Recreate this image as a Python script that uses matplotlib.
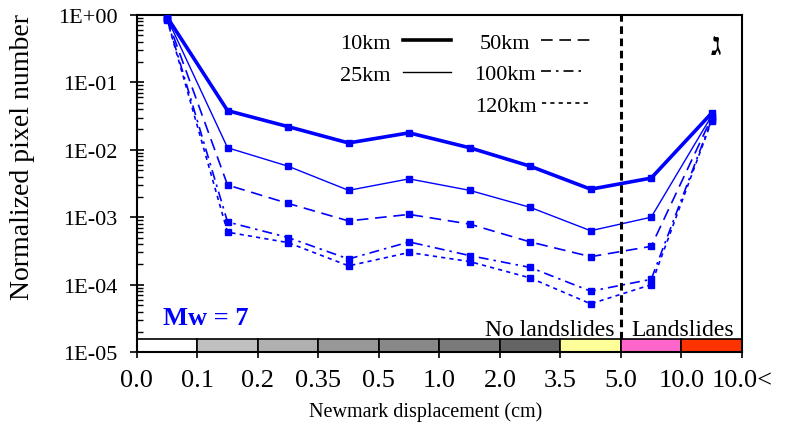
import matplotlib.pyplot as plt
from matplotlib.ticker import LogLocator, NullFormatter

plt.rcParams['font.family'] = ['Liberation Serif', 'DejaVu Serif']

# displacement classes (cm)
edges = ['0.0', '0.1', '0.2', '0.35', '0.5', '1.0', '2.0', '3.5', '5.0', '10.0', '10.0<']
class_colors = ['#ffffff', '#c0c0c0', '#b0b0b0', '#989898', '#888888',
                '#7a7a7a', '#646464', '#ffff99', '#ff66cc', '#ff3300']

# normalized pixel number per distance
d10 = [0.93, 0.038, 0.022, 0.0126, 0.0178, 0.0107, 0.0057, 0.0026, 0.0038, 0.035]
d25 = [0.90, 0.0107, 0.0057, 0.0025, 0.0037, 0.0025, 0.0014, 0.00063, 0.0010, 0.032]
d50 = [0.88, 0.0030, 0.0016, 0.00088, 0.0011, 0.00079, 0.00043, 0.00026, 0.00037, 0.030]
d100 = [0.86, 0.00085, 0.00050, 0.00024, 0.00043, 0.00027, 0.00018, 0.000080, 0.00012, 0.028]
d120 = [0.85, 0.00060, 0.00042, 0.00019, 0.00030, 0.00022, 0.000126, 0.000052, 0.00010, 0.027]

series = [
    ('10km', d10, '-', 2.6),
    ('25km', d25, '-', 1.0),
    ('50km', d50, (0, (7, 4)), 1.2),
    ('100km', d100, (0, (6, 3, 1.5, 3)), 1.2),
    ('120km', d120, (0, (2.5, 2.5)), 1.2),
]

fig = plt.figure(figsize=(7.86, 4.27), dpi=100)
ax = fig.add_axes([0.174, 0.173, 0.770, 0.790])

x = list(range(len(d10)))
for name, vals, ls, lw in series:
    ax.plot(x, vals, color='#0000ff', linestyle=ls, linewidth=lw,
            marker='s', markersize=5, zorder=3)

# colour bar of displacement classes
ax.bar(x, [0.55e-5] * len(x), bottom=1e-5, width=1.0, color=class_colors,
       edgecolor='black', linewidth=1.2, zorder=2)

ax.set_yscale('log')
ax.set_ylim(1e-5, 1)
ax.set_xlim(-0.5, 9.5)

# threshold line between no landslides / landslides
ax.plot([7.5, 7.5], [1.58e-5, 1], color='black', linestyle=(0, (2.5, 1.5)),
        linewidth=2.2, zorder=4)

ax.set_yticks([1, 1e-1, 1e-2, 1e-3, 1e-4, 1e-5])
ax.set_yticklabels(['1E+00', '1E-01', '1E-02', '1E-03', '1E-04', '1E-05'], fontsize=16)
ax.yaxis.set_minor_locator(LogLocator(base=10, subs=range(2, 10), numticks=20))
ax.yaxis.set_minor_formatter(NullFormatter())
ax.tick_params(axis='y', which='major', direction='inout', length=10, width=1.2, pad=9)
ax.tick_params(axis='y', which='minor', direction='in', length=4, width=1)

ax.set_xticks([i - 0.5 for i in range(len(edges))])
ax.set_xticklabels(edges, fontsize=19)
ax.tick_params(axis='x', direction='out', length=4, width=1.2, pad=8)

for s in ax.spines.values():
    s.set_linewidth(1.5)

ax.set_ylabel('Normalized pixel number', fontsize=20)
ax.yaxis.set_label_coords(-0.168, 0.58)
ax.set_xlabel('Newmark displacement (cm)', fontsize=14.5)
ax.xaxis.set_label_coords(0.478, -0.145)

# legend drawn by hand in two columns
leg = [('10km', 0.42, 0.926, 0.44, 0.52, '-', 2.6),
       ('25km', 0.42, 0.831, 0.44, 0.52, '-', 1.0),
       ('50km', 0.65, 0.926, 0.668, 0.749, (0, (7, 4)), 1.2),
       ('100km', 0.66, 0.834, 0.668, 0.74, (0, (6, 3, 1.5, 3)), 1.2),
       ('120km', 0.661, 0.739, 0.669, 0.749, (0, (2.5, 2.5)), 1.2)]
for name, tx, ty, x0, x1, ls, lw in leg:
    ax.text(tx, ty - 0.012, name, transform=ax.transAxes, ha='right', va='center', fontsize=16)
    ax.plot([x0, x1], [ty, ty], transform=ax.transAxes,
            color='black', linestyle=ls, linewidth=lw)

ax.text(0.957, 0.905, '\u05d2', transform=ax.transAxes, ha='center', va='center',
        fontsize=23, fontweight='bold')
ax.text(0.043, 0.104, 'Mw = 7', transform=ax.transAxes, color='#0000ff',
        fontsize=19, fontweight='bold', ha='left', va='center')
ax.text(0.79, 0.068, 'No landslides', transform=ax.transAxes, ha='right',
        va='center', fontsize=17)
ax.text(0.817, 0.068, 'Landslides', transform=ax.transAxes, ha='left',
        va='center', fontsize=17)

fig.savefig('out.png', dpi=100)
